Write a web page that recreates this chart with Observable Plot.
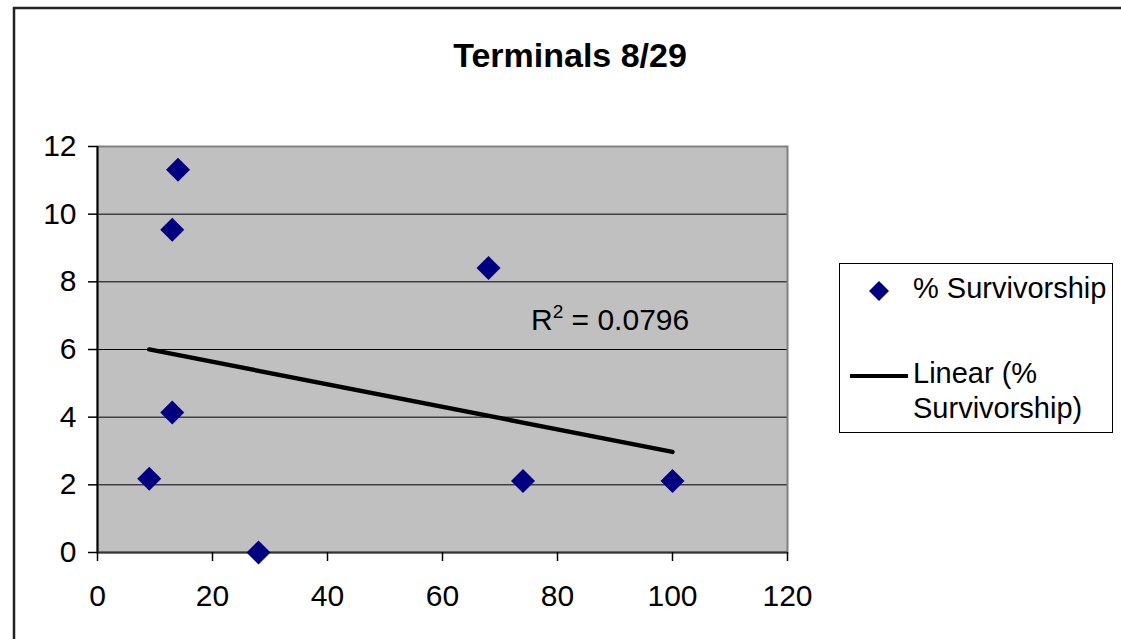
<!DOCTYPE html>
<html>
<head>
<meta charset="utf-8">
<script src="https://cdn.jsdelivr.net/npm/d3@7"></script>
<script src="https://cdn.jsdelivr.net/npm/@observablehq/plot@0.6"></script>
<style>
  html, body { margin: 0; padding: 0; background: #fff; }
  #wrap { position: relative; width: 1121px; height: 639px; overflow: hidden; font-family: "Liberation Sans", Arial, sans-serif; }
  #wrap > svg { position: absolute; left: 0; top: 0; }
</style>
</head>
<body>
<div id="wrap"></div>
<script>
// ---- data ----
const xValues = [9, 13, 13, 14, 28, 68, 74, 100];
const survivorship = [2.18, 4.14, 9.54, 11.31, 0, 8.41, 2.11, 2.11];
const xTicks = [0, 20, 40, 60, 80, 100, 120];
const yTicks = [0, 2, 4, 6, 8, 10, 12];
const titleText = "Terminals 8/29";
const seriesName = "% Survivorship";
const trendNameLines = ["Linear (%", "Survivorship)"];
const r2Value = "0.0796";

const data = xValues.map((x, i) => ({x, y: survivorship[i]}));
const FONT = '"Liberation Sans", Arial, sans-serif';

const chart = Plot.plot({
  width: 1121,
  height: 639,
  marginLeft: 97,
  marginRight: 334,
  marginTop: 146,
  marginBottom: 87,
  style: {fontFamily: FONT, fontSize: "30px", color: "#000", background: "transparent", overflow: "visible"},
  x: {domain: [0, 120], ticks: xTicks, label: null},
  y: {domain: [0, 12], ticks: yTicks, label: null},
  marks: [
    Plot.frame({fill: "#c0c0c0", stroke: null}),
    Plot.gridY(yTicks.filter(d => d > 0 && d < 12), {stroke: "#000", strokeOpacity: 1, strokeWidth: 1}),
    Plot.frame({stroke: "#808080", strokeWidth: 2}),
    Plot.ruleX([0], {stroke: "#000", strokeWidth: 2}),
    Plot.ruleY([0], {stroke: "#333", strokeWidth: 2}),
    Plot.axisX({ticks: xTicks, tickSize: 9, tickPadding: 23, strokeWidth: 1.5, fontSize: 30}),
    Plot.axisY({ticks: yTicks, tickSize: 9, tickPadding: 12, strokeWidth: 1.5, fontSize: 30}),
    Plot.linearRegressionY(data, {x: "x", y: "y", ci: 0, stroke: "#000", strokeWidth: 4.5}),
    Plot.dot(data, {x: "x", y: "y", symbol: "diamond2", r: 10.8, fill: "#000080", stroke: null})
  ]
});

const wrap = document.getElementById("wrap");
wrap.appendChild(chart);

// ---- overlay: outer border, title, R² note, legend ----
const ov = d3.select(wrap).append("svg")
  .attr("width", 1121).attr("height", 639)
  .style("font-family", FONT);

ov.append("path")
  .attr("d", "M14,639V8H1121")
  .attr("fill", "none").attr("stroke", "#222").attr("stroke-width", 2.5);

ov.append("text")
  .attr("x", 570).attr("y", 67)
  .attr("text-anchor", "middle")
  .attr("font-size", 34).attr("font-weight", "bold")
  .text(titleText);

const r2 = ov.append("text").attr("x", 531).attr("y", 330).attr("font-size", 30);
r2.append("tspan").text("R");
r2.append("tspan").attr("font-size", 19).attr("dy", -12).text("2");
r2.append("tspan").attr("dy", 12).text(" = " + r2Value);

const lg = ov.append("g");
lg.append("rect")
  .attr("x", 839.5).attr("y", 263.5).attr("width", 273).attr("height", 169)
  .attr("fill", "#fff").attr("stroke", "#000").attr("stroke-width", 1);
lg.append("path")
  .attr("d", "M879,281L889,291L879,301L869,291Z")
  .attr("fill", "#000080");
lg.append("text").attr("x", 913).attr("y", 298).attr("font-size", 29).text(seriesName);
lg.append("line")
  .attr("x1", 850).attr("x2", 908).attr("y1", 376).attr("y2", 376)
  .attr("stroke", "#000").attr("stroke-width", 4);
trendNameLines.forEach((t, i) => {
  lg.append("text").attr("x", 913).attr("y", 383 + i * 35).attr("font-size", 29).text(t);
});
</script>
</body>
</html>
